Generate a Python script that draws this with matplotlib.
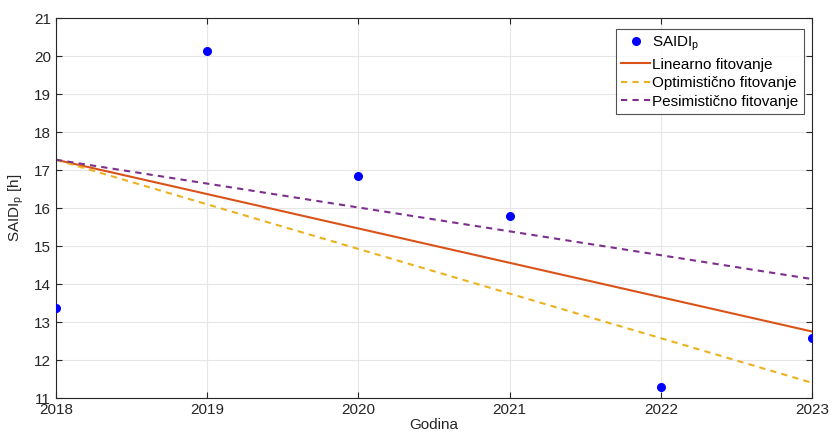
import matplotlib
matplotlib.use("Agg")
import matplotlib.pyplot as plt
import numpy as np

plt.rcParams['font.family'] = ['Liberation Sans', 'DejaVu Sans']

years = [2018, 2019, 2020, 2021, 2022, 2023]
saidi = [13.37, 20.14, 16.85, 15.79, 11.29, 12.58]

fit_start = [17.27, 17.27, 17.27]          # linear, optimistic, pessimistic at 2018
fit_end = [12.75, 11.40, 14.13]            # at 2023
fit_names = ['Linearno fitovanje', 'Optimistično fitovanje', 'Pesimistično fitovanje']
fit_colors = ['#D95319', '#EDB120', '#7E2F8E']
fit_styles = ['-', '--', '--']

fig = plt.figure(figsize=(8.32, 4.41), dpi=100)
ax = fig.add_axes([56/832, 43/441, 756/832, 380/441])

ax.plot(years, saidi, 'o', color='#0000FF', markersize=5.5, label='SAIDI$_\\mathregular{p}$', zorder=5)
xf = np.array([years[0], years[-1]])
for s, e, n, c, ls in zip(fit_start, fit_end, fit_names, fit_colors, fit_styles):
    ax.plot(xf, [s, e], ls, color=c, linewidth=1.5, label=n, dashes=(3, 2.5) if ls == '--' else (None, None))

ax.set_xlim(2018, 2023)
ax.set_ylim(11, 21)
ax.set_xticks(years)
ax.set_yticks(range(11, 22))
ax.grid(True, color='#E6E6E6', linewidth=0.8)
ax.set_axisbelow(True)
for sp in ax.spines.values():
    sp.set_color('#262626')
    sp.set_linewidth(0.8)
ax.tick_params(direction='in', length=4, labelsize=11, colors='#262626', top=True, right=True,
               labeltop=False, labelright=False)
ax.set_xlabel('Godina', fontsize=11, color='#262626', labelpad=1)
ax.set_ylabel('SAIDI$_\\mathregular{p}$ [h]', fontsize=11, color='#262626', labelpad=6)

leg = ax.legend(loc='upper right', bbox_to_anchor=(1 - 8/756, 1 - 11/380), fontsize=11, frameon=True,
                fancybox=False, edgecolor='#262626',
                borderpad=0.35, handlelength=1.9, handletextpad=0.15, labelspacing=0.3,
                borderaxespad=0.0)
leg.get_frame().set_linewidth(0.8)

fig.savefig('out.png', dpi=100)
